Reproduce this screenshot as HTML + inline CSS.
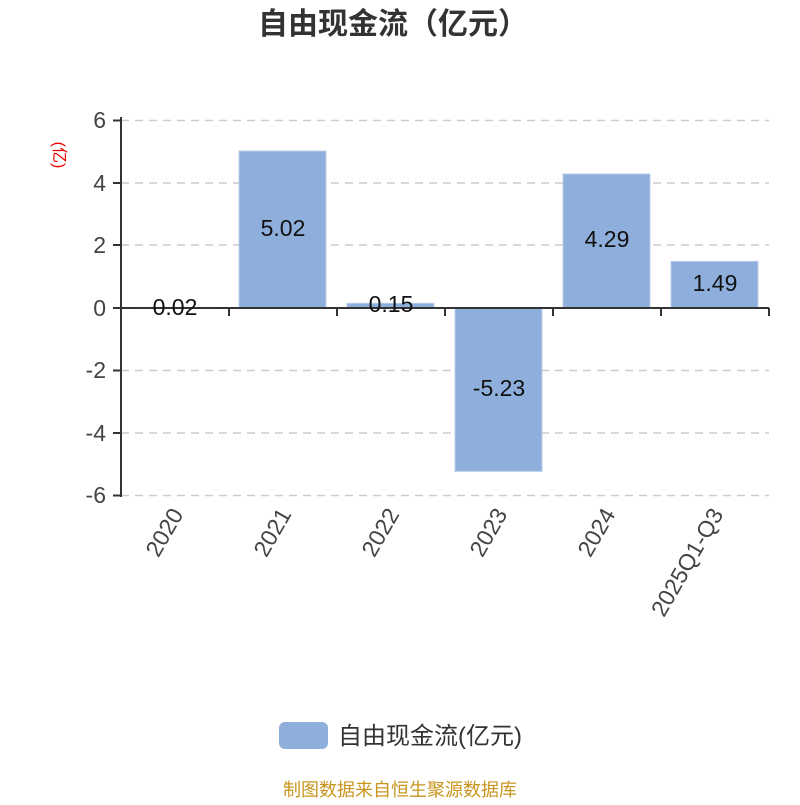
<!DOCTYPE html>
<html><head><meta charset="utf-8"><style>
html,body{margin:0;padding:0;background:#fff;}
svg text{font-family:"Liberation Sans","Noto Sans CJK SC",sans-serif;}
</style></head><body>
<svg width="800" height="800" viewBox="0 0 800 800" xmlns="http://www.w3.org/2000/svg">
<rect width="800" height="800" fill="#fff"/>
<text x="393" y="34" text-anchor="middle" font-size="30" font-weight="bold" fill="#333">自由现金流（亿元）</text>
<g stroke="#ccc" stroke-width="1.5" stroke-dasharray="8,6">
<line x1="121" y1="120.5" x2="769" y2="120.5"/>
<line x1="121" y1="183" x2="769" y2="183"/>
<line x1="121" y1="245" x2="769" y2="245"/>
<line x1="121" y1="370.5" x2="769" y2="370.5"/>
<line x1="121" y1="433" x2="769" y2="433"/>
<line x1="121" y1="495.5" x2="769" y2="495.5"/>
</g>
<g fill="#8eaedb" stroke="#b8cdea" stroke-width="1">
<rect x="131" y="307.4" width="87" height="0.8"/>
<rect x="239" y="151" width="87" height="157"/>
<rect x="347" y="303.3" width="87" height="4.7"/>
<rect x="455" y="308" width="87" height="163.4"/>
<rect x="563" y="174" width="87" height="134"/>
<rect x="671" y="261.4" width="87" height="46.6"/>
</g>
<g stroke="#333" stroke-width="2" fill="none">
<line x1="121" y1="117" x2="121" y2="497"/>
<line x1="121" y1="308" x2="769" y2="308"/>
<line x1="113" y1="120.5" x2="121" y2="120.5"/>
<line x1="113" y1="183" x2="121" y2="183"/>
<line x1="113" y1="245" x2="121" y2="245"/>
<line x1="113" y1="308" x2="121" y2="308"/>
<line x1="113" y1="370.5" x2="121" y2="370.5"/>
<line x1="113" y1="433" x2="121" y2="433"/>
<line x1="113" y1="495.5" x2="121" y2="495.5"/>
<line x1="229" y1="308" x2="229" y2="316"/>
<line x1="337" y1="308" x2="337" y2="316"/>
<line x1="445" y1="308" x2="445" y2="316"/>
<line x1="553" y1="308" x2="553" y2="316"/>
<line x1="661" y1="308" x2="661" y2="316"/>
<line x1="769" y1="308" x2="769" y2="316"/>
</g>
<g font-size="23" fill="#444" text-anchor="end">
<text x="106" y="128">6</text>
<text x="106" y="191">4</text>
<text x="106" y="253">2</text>
<text x="106" y="316">0</text>
<text x="106" y="378">-2</text>
<text x="106" y="441">-4</text>
<text x="106" y="503">-6</text>
</g>
<text transform="translate(54,155) rotate(90)" font-size="16" fill="#e00" text-anchor="middle">(亿)</text>
<g font-size="23" fill="#111" text-anchor="middle">
<text x="175" y="315">0.02</text>
<text x="283" y="236">5.02</text>
<text x="391" y="312">0.15</text>
<text x="499" y="396">-5.23</text>
<text x="607" y="247">4.29</text>
<text x="715" y="291">1.49</text>
</g>
<g font-size="23" fill="#444" text-anchor="end">
<text transform="translate(184,514) rotate(-60)">2020</text>
<text transform="translate(292,514) rotate(-60)">2021</text>
<text transform="translate(400,514) rotate(-60)">2022</text>
<text transform="translate(508,514) rotate(-60)">2023</text>
<text transform="translate(616,514) rotate(-60)">2024</text>
<text transform="translate(724,514) rotate(-60)">2025Q1-Q3</text>
</g>
<rect x="279" y="722" width="49" height="27" rx="6" fill="#8eaedb"/>
<text x="338" y="744" font-size="24" fill="#333">自由现金流(亿元)</text>
<text x="400" y="796" font-size="18" fill="#c8961e" text-anchor="middle">制图数据来自恒生聚源数据库</text>
</svg>
</body></html>
